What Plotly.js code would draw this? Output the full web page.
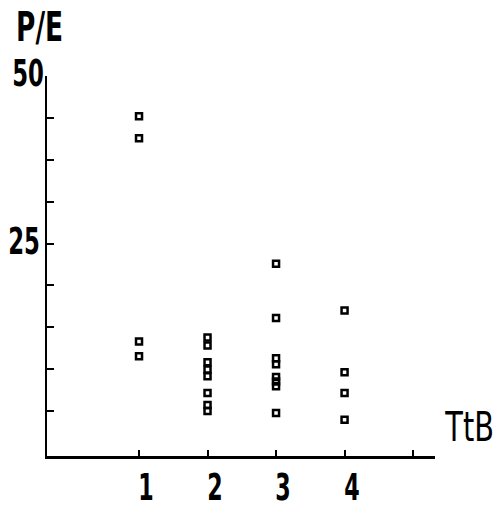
<!DOCTYPE html>
<html>
<head>
<meta charset="utf-8">
<script src="https://cdn.plot.ly/plotly-3.0.1.min.js"></script>
<style>
html,body{margin:0;padding:0;background:#fff;}
#chart{width:497px;height:507px;}
</style>
</head>
<body>
<div id="chart"></div>
<script>
const ttbCategories = [1, 2, 3, 4];
const peGroup1 = [44.0, 40.7, 10.4, 8.2];
const peGroup2 = [11.0, 9.8, 7.3, 6.2, 5.2, 2.7, 0.9, 0.0];
const peGroup3 = [22.0, 13.9, 7.9, 7.0, 5.1, 4.4, 3.7, -0.3];
const peGroup4 = [15.0, 5.8, 2.7, -1.3];
const xTickVals = [1, 2, 3, 4, 5];
const xTickText = ['1', '2', '3', '4', ''];
const yTickVals = [0, 6.25, 12.5, 18.75, 25, 31.25, 37.5, 43.75, 50];
const yLabelVals = [25, 50];
const yLabelText = ['25', '50'];
const xTitle = 'TtB';
const yTitle = 'P/E';

const groups = [peGroup1, peGroup2, peGroup3, peGroup4];
const xs = [], ys = [];
groups.forEach((g, i) => g.forEach(v => { xs.push(ttbCategories[i]); ys.push(v); }));

const FONT = 'DejaVu Sans, sans-serif';

const data = [{
  type: 'scatter', mode: 'markers', x: xs, y: ys,
  marker: {symbol: 'square-open', size: 6, color: '#000', line: {color: '#000', width: 2.5}},
  hoverinfo: 'skip', showlegend: false
}];

const annotations = [];
const squeezeInfo = [];
// x tick labels
xTickText.forEach((t, i) => {
  if (!t) return;
  annotations.push({text: t, xref: 'x', yref: 'paper', x: xTickVals[i], y: 0, xanchor: 'center', yanchor: 'top',
    xshift: 7, yshift: -8, showarrow: false, font: {family: FONT, size: 37, color: '#000', weight: 'bold'}});
  squeezeInfo.push({sx: 0.6, pivot: 'center'});
});
// y tick labels
yLabelText.forEach((t, i) => {
  annotations.push({text: t, xref: 'paper', yref: 'y', x: 0, y: yLabelVals[i], xanchor: 'right', yanchor: 'middle',
    xshift: i === 0 ? -5 : -1, yshift: 3, showarrow: false, font: {family: FONT, size: 38, color: '#000', weight: 'bold'}});
  squeezeInfo.push({sx: 0.6, pivot: 'right'});
});
// axis titles
annotations.push({text: yTitle, xref: 'paper', yref: 'paper', x: -0.0206, y: 1.129, xanchor: 'center', yanchor: 'middle',
  yshift: 0, showarrow: false, font: {family: FONT, size: 40, color: '#000', weight: 'bold'}});
squeezeInfo.push({sx: 0.66, pivot: 'center'});
annotations.push({text: xTitle, xref: 'paper', yref: 'paper', x: 1.09, y: 0.068, xanchor: 'center', yanchor: 'middle',
  yshift: 3, showarrow: false, font: {family: FONT, size: 40, color: '#000'}});
squeezeInfo.push({sx: 0.72, pivot: 'center'});

const layout = {
  width: 497, height: 507,
  margin: {l: 47, r: 62, t: 76, b: 51, pad: 0},
  paper_bgcolor: '#fff', plot_bgcolor: '#fff',
  showlegend: false,
  xaxis: {
    range: [-0.343, 5.32], tickmode: 'array', tickvals: xTickVals, ticktext: xTickVals.map(() => ''),
    ticks: 'inside', ticklen: 6, tickwidth: 2, tickcolor: '#000',
    showline: true, linewidth: 3, linecolor: '#000', showgrid: false, zeroline: false, fixedrange: true
  },
  yaxis: {
    range: [-6.7, 50], tickmode: 'array', tickvals: yTickVals, ticktext: yTickVals.map(() => ''),
    ticks: 'inside', ticklen: 7, tickwidth: 2, tickcolor: '#000',
    showline: true, linewidth: 2, linecolor: '#000', showgrid: false, zeroline: false, fixedrange: true
  },
  annotations: annotations
};

Plotly.newPlot('chart', data, layout, {displayModeBar: false, staticPlot: true}).then(gd => {
  gd.querySelectorAll('g.annotation').forEach(g => {
    const idx = +g.getAttribute('data-index');
    const info = squeezeInfo[idx];
    const t = g.querySelector('text.annotation-text');
    if (!info || !t) return;
    const bb = t.getBBox();
    const px = info.pivot === 'left' ? bb.x : info.pivot === 'right' ? bb.x + bb.width : bb.x + bb.width / 2;
    const tr = t.getAttribute('transform') || '';
    t.setAttribute('transform', tr + ' translate(' + px + ',0) scale(' + info.sx + ',1) translate(' + (-px) + ',0)');
  });
});
</script>
</body>
</html>
